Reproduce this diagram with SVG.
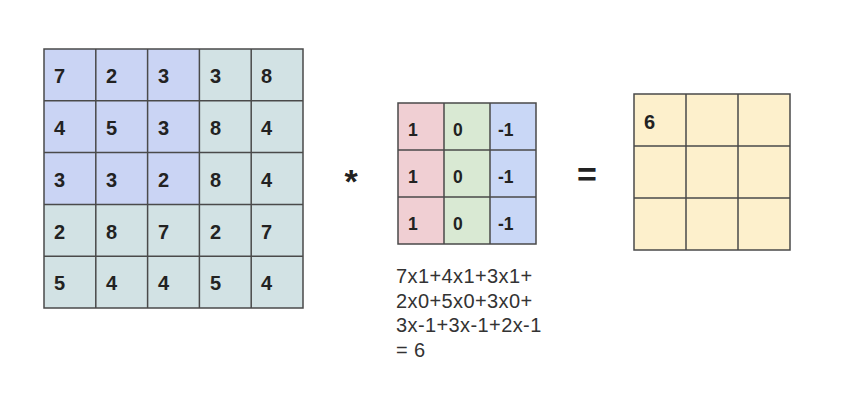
<svg xmlns="http://www.w3.org/2000/svg" width="868" height="412" viewBox="0 0 868 412">
<style>
.num{font-family:"Liberation Sans",Arial,sans-serif;font-weight:bold;font-size:20px;fill:#222}
.knum{font-family:"Liberation Sans",Arial,sans-serif;font-weight:bold;font-size:17.5px;fill:#222}
.grid{fill:none;stroke:#4a4a4a;stroke-width:1.5}
.formula{font-family:"Liberation Sans",Arial,sans-serif;font-size:20px;fill:#333;letter-spacing:0.4px}
.op{font-family:"Liberation Sans",Arial,sans-serif;font-weight:bold;fill:#222}
</style>
<rect width="868" height="412" fill="#ffffff"/>
<g id="input-matrix">
  <rect x="44" y="49" width="259" height="259" fill="#d2e2e4"/>
  <rect x="44" y="49" width="155.4" height="155.4" fill="#cad4f4"/>
  <path class="grid" d="M44 49H303V308H44Z M95.8 49V308 M147.6 49V308 M199.4 49V308 M251.2 49V308 M44 100.8H303 M44 152.6H303 M44 204.4H303 M44 256.2H303"/>
  <g class="num">
    <text x="54" y="83">7</text><text x="106" y="83">2</text><text x="158" y="83">3</text><text x="210" y="83">3</text><text x="261" y="83">8</text>
    <text x="54" y="135">4</text><text x="106" y="135">5</text><text x="158" y="135">3</text><text x="210" y="135">8</text><text x="261" y="135">4</text>
    <text x="54" y="187">3</text><text x="106" y="187">3</text><text x="158" y="187">2</text><text x="210" y="187">8</text><text x="261" y="187">4</text>
    <text x="54" y="239">2</text><text x="106" y="239">8</text><text x="158" y="239">7</text><text x="210" y="239">2</text><text x="261" y="239">7</text>
    <text x="54" y="290">5</text><text x="106" y="290">4</text><text x="158" y="290">4</text><text x="210" y="290">5</text><text x="261" y="290">4</text>
  </g>
</g>
<g id="convolve-operator">
  <text class="op" x="351" y="193" font-size="34" text-anchor="middle">*</text>
</g>
<g id="kernel">
  <rect x="398" y="103" width="46" height="141" fill="#f0cfd3"/>
  <rect x="444" y="103" width="46" height="141" fill="#d9e9d3"/>
  <rect x="490" y="103" width="46" height="141" fill="#c9d7f6"/>
  <path class="grid" d="M398 103H536V244H398Z M444 103V244 M490 103V244 M398 150H536 M398 197H536"/>
  <g class="knum">
    <text x="408" y="136">1</text><text x="453" y="136">0</text><text x="498" y="136">-1</text>
    <text x="408" y="183">1</text><text x="453" y="183">0</text><text x="498" y="183">-1</text>
    <text x="408" y="230">1</text><text x="453" y="230">0</text><text x="498" y="230">-1</text>
  </g>
</g>
<g id="formula">
  <text class="formula" x="396" y="283">7x1+4x1+3x1+</text>
  <text class="formula" x="396" y="307.5">2x0+5x0+3x0+</text>
  <text class="formula" x="396" y="332">3x-1+3x-1+2x-1</text>
  <text class="formula" x="396" y="356.5">= 6</text>
</g>
<g id="equals-operator">
  <text class="op" x="587" y="186" font-size="34" text-anchor="middle">=</text>
</g>
<g id="output-matrix">
  <rect x="634" y="94" width="156" height="156" fill="#fdf0cc"/>
  <path class="grid" d="M634 94H790V250H634Z M686 94V250 M738 94V250 M634 146H790 M634 198H790"/>
  <text class="num" x="644" y="129">6</text>
</g>
<g id="connectors"></g>
</svg>
